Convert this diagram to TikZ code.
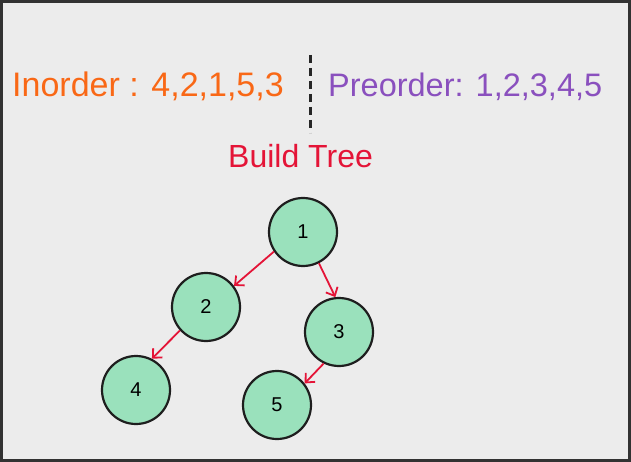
\documentclass[tikz,border=0pt]{standalone}
\usepackage{fontspec}
\setmainfont{Liberation Sans}
\usetikzlibrary{arrows.meta}
\definecolor{bgc}{RGB}{236,236,236}
\definecolor{framec}{RGB}{50,50,50}
\definecolor{orangec}{RGB}{249,104,22}
\definecolor{purplec}{RGB}{138,80,190}
\definecolor{redc}{RGB}{228,20,55}
\definecolor{greenc}{RGB}{154,225,188}
\definecolor{edgec}{RGB}{30,30,30}
\tikzset{
  treenode/.style={circle, draw=edgec, line width=2.2pt, fill=greenc, minimum size=68pt, inner sep=0pt, font=\fontsize{20}{23}\selectfont, text=black},
  arr/.style={draw=redc, line width=1.8pt, -{Straight Barb[length=7pt,width=13pt,line width=1.8pt]}},
  bigtext/.style={anchor=base west, inner sep=0pt, font=\fontsize{33}{38}\selectfont},
}
\begin{document}
\begin{tikzpicture}[x=1pt,y=-1pt]
\useasboundingbox (0,0) rectangle (631,462);
\fill[bgc] (0,0) rectangle (631,462);
\draw[framec, line width=3pt] (1.5,1.5) rectangle (629.5,460.5);

\node[bigtext, text=orangec, font=\fontsize{34}{38}\selectfont] (inord) at (12,97) {Inorder : 4,2,1,5,3};
\node[bigtext, text=purplec, font=\fontsize{32.5}{38}\selectfont] (preord) at (328,97) {Preorder: 1,2,3,4,5};
\node[bigtext, text=redc, font=\fontsize{32}{36}\selectfont] (build) at (228,168) {Build Tree};

\coordinate (dtop) at (310.5,55);
\coordinate (dbot) at (310.5,133);
\draw[black!85, line width=2.2pt, dash pattern=on 8pt off 5pt] (dtop) -- (dbot);

\node[treenode] (n1) at (303,232) {1};
\node[treenode] (n2) at (206,307) {2};
\node[treenode] (n3) at (339,332) {3};
\node[treenode] (n4) at (136,390) {4};
\node[treenode] (n5) at (277,405) {5};

\draw[arr] (n1.214) -- (n2.37);
\draw[arr] (n1.-63) -- (n3.96);
\draw[arr] (n2.222) -- (n4.63);
\draw[arr] (n3.-116) -- (n5.38);
\end{tikzpicture}
\end{document}
